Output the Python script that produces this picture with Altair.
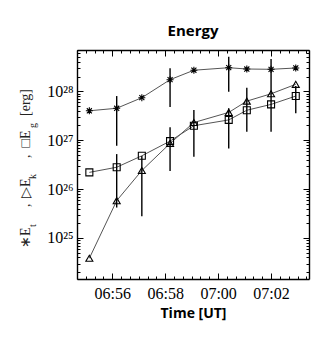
import altair as alt
import pandas as pd

# ---------------- data ----------------
day = "2011-01-01 "
times = ["06:55:08", "06:56:10", "06:57:07", "06:58:11", "06:59:05",
         "07:00:24", "07:01:05", "07:02:00", "07:02:56"]
E_t = [4.0e27, 4.5e27, 7.4e27, 1.73e28, 2.7e28, 3.04e28, 2.86e28, 2.82e28, 3.0e28]
E_k = [3.85e24, 5.8e25, 2.4e26, 8.6e26, 2.3e27, 3.7e27, 6.3e27, 8.9e27, 1.39e28]
E_g = [2.2e26, 2.8e26, 4.8e26, 9.6e26, 1.98e27, 2.6e27, 4.1e27, 5.4e27, 8.0e27]
series_names = ["Et", "Ek", "Eg"]

err_times = ["06:56:10", "06:56:10", "06:57:07", "06:58:11", "06:58:11", "06:59:05",
             "07:00:24", "07:00:24", "07:01:05", "07:02:00", "07:02:56"]
err_lo = [7.7e26, 4.2e25, 2.8e25, 4.8e27, 2.35e26, 4.6e26, 9.8e27, 6.8e26, 1.49e27, 1.49e27, 3.55e27]
err_hi = [8.0e27, 5.2e26, 4.75e26, 2.95e28, 1.84e27, 4.15e27, 5.1e28, 4.5e27, 1.19e28, 4.6e28, 1.28e28]

y_major_exp = [25, 26, 27, 28]
y_major_labels = ["10²⁵", "10²⁶", "10²⁷", "10²⁸"]
x_tick_labels = ["06:56", "06:58", "07:00", "07:02"]
title_text = "Energy"
x_title = "Time [UT]"
# y-axis title pieces: (text, is_subscript)
y_title_parts = [("∗E", False), ("t", True), (",", False), ("▷E", False), ("k", True),
                 (",", False), ("□E", False), ("g", True), ("[erg]", False)]

# ---------------- tables ----------------
rows = []
for name, vals in zip(series_names, [E_t, E_k, E_g]):
    for t, v in zip(times, vals):
        rows.append({"t": day + t, "v": v, "s": name})
df = pd.DataFrame(rows)
err = pd.DataFrame({"t": [day + t for t in err_times], "lo": err_lo, "hi": err_hi})

# scales
def dt(h, m, s):
    return alt.DateTime(year=2011, month=1, date=1, hours=h, minutes=m, seconds=s)

xscale = alt.Scale(domain=[dt(6, 54, 40), dt(7, 3, 26)])
yscale = alt.Scale(type="log", domain=[1.45e24, 7.0e28], nice=False)

# tick values
x_vals = []
for k in range(0, 27):
    total = 6 * 3600 + 54 * 60 + 40 + 20 * k
    h, rem = divmod(total, 3600)
    m, s = divmod(rem, 60)
    x_vals.append(dt(h, m, s))
y_vals = []
for e in range(24, 29):
    for mult in range(1, 10):
        v = mult * 10.0 ** e
        if 1.45e24 <= v <= 7.0e28:
            y_vals.append(float(f"{mult}e{e}"))

x_major_test = "seconds(datum.value) == 0 && minutes(datum.value) % 2 == 0"
x_label_expr = f"{x_major_test} ? timeFormat(datum.value, '%H:%M') : ''"
y_major_test = "abs(log(datum.value)/LN10 - round(log(datum.value)/LN10)) < 1e-6"
y_label_expr = "".join(
    f"round(log(datum.value)/LN10) == {e} && {y_major_test} ? '{lab}' : "
    for e, lab in zip(y_major_exp, y_major_labels)
) + "''"

def tick_size(test):
    return {"condition": {"test": test, "value": -6}, "value": -3}

common_axis = dict(grid=False, domainColor="black", domainWidth=1.4, tickColor="black",
                   tickWidth=1, labelOverlap=False, labelFlush=False)

x_axis_bottom = alt.Axis(orient="bottom", values=x_vals, labelExpr=x_label_expr,
                         tickSize=tick_size(x_major_test), labelPadding=12,
                         labelFont="Liberation Serif", labelFontSize=16, labelColor="black",
                         title=x_title, titleFont="Open Sans", titleFontWeight="bold",
                         titleFontSize=14, titleColor="black", titlePadding=2, **common_axis)
y_axis_left = alt.Axis(orient="left", values=y_vals, labelExpr=y_label_expr,
                       tickSize=tick_size(y_major_test), labelPadding=10,
                       labelFont="Liberation Serif", labelFontSize=16, labelColor="black",
                       title=None, **common_axis)
x_axis_top = alt.Axis(orient="top", values=x_vals, labels=False,
                      tickSize=tick_size(x_major_test), title=None, **common_axis)
y_axis_right = alt.Axis(orient="right", values=y_vals, labels=False,
                        tickSize=tick_size(y_major_test), title=None, **common_axis)

base = alt.Chart(df)

lines = base.mark_line(color="#555555", strokeWidth=1).encode(
    x=alt.X("t:T", scale=xscale, axis=x_axis_bottom),
    y=alt.Y("v:Q", scale=yscale, axis=y_axis_left),
    detail="s:N",
)

asterisk = "M-1,0L1,0M0,-1L0,1M-0.72,-0.72L0.72,0.72M-0.72,0.72L0.72,-0.72"
points = base.mark_point(filled=False, size=49, strokeWidth=1.1, color="black", opacity=1).encode(
    x=alt.X("t:T", scale=xscale, axis=None),
    y=alt.Y("v:Q", scale=yscale, axis=None),
    shape=alt.Shape("s:N", scale=alt.Scale(domain=series_names,
                                           range=[asterisk, "triangle-up", "square"]),
                    legend=None),
)

bars = alt.Chart(err).mark_rule(color="black", strokeWidth=1.4).encode(
    x=alt.X("t:T", scale=xscale, axis=None),
    y=alt.Y("lo:Q", scale=yscale, axis=None),
    y2="hi:Q",
)

mirror = base.mark_point(opacity=0).encode(
    x=alt.X("t:T", scale=xscale, axis=x_axis_top),
    y=alt.Y("v:Q", scale=yscale, axis=y_axis_right),
)

# rotated y title assembled from pieces (main text + subscripts), read upward
one = pd.DataFrame({"a": [0]})
piece_starts = [198, 177, 157, 148, 129, 108, 97.5, 78, 66]

def piece(txt, sub, y):
    return alt.Chart(one).mark_text(
        text=txt, angle=270, align="left", baseline="alphabetic",
        font="Liberation Serif", fontSize=10 if sub else 14, color="#222222"
    ).encode(x=alt.value(-41 if sub else -47), y=alt.value(y))

ytitle = [piece(t, s, y) for (t, s), y in zip(y_title_parts, piece_starts)]

chart = alt.layer(lines, bars, points, mirror, *ytitle).resolve_axis(
    x="independent", y="independent"
).properties(
    width=232, height=229,
    padding={"left": 77, "top": 50, "right": 25, "bottom": 65},
    autosize="none",
    title=alt.TitleParams(title_text, font="Open Sans", fontWeight="bold", fontSize=15,
                          color="black", anchor="middle", offset=3),
).configure_view(stroke=None)

chart.save("out.html", embed_options={"renderer": "svg", "actions": False})
